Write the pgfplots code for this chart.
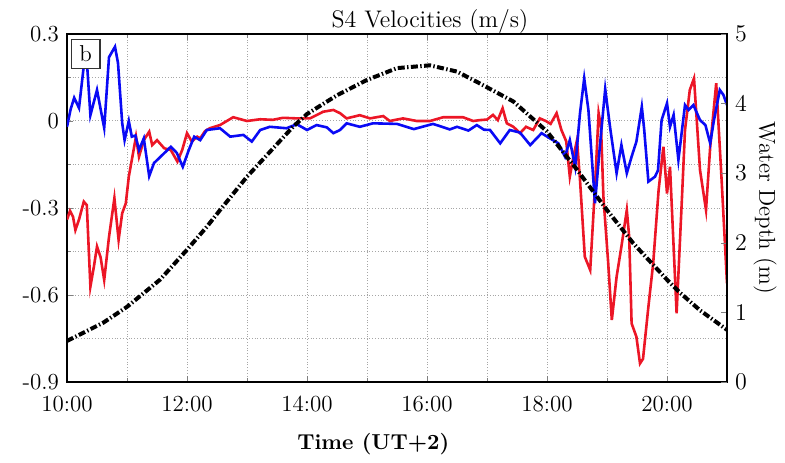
\documentclass[border=0pt]{standalone}
\usepackage{pgfplots}
\pgfplotsset{compat=1.18}
\definecolor{vred}{RGB}{236,22,38}
\definecolor{vblue}{RGB}{10,10,245}
\begin{document}
\fontsize{11.5}{13.5}\selectfont
\begin{tikzpicture}
\useasboundingbox (-33.5pt,-40pt) rectangle (359pt,191pt);
\begin{axis}[
  at={(0pt,0pt)}, anchor=south west,
  scale only axis, width=330pt, height=174pt,
  xmin=10, xmax=21, ymin=-0.9, ymax=0.3,
  xtick={10,12,14,16,18,20},
  xticklabels={10:00,12:00,14:00,16:00,18:00,20:00},
  minor x tick num=1,
  ytick={-0.9,-0.6,-0.3,0,0.3},
  yticklabels={-0.9,-0.6,-0.3,0,0.3},
  minor y tick num=1,
  ytick pos=left,
  grid=both,
  major grid style={densely dotted, gray!70, line width=0.5pt},
  minor grid style={densely dotted, gray!70, line width=0.5pt},
  major tick length=3pt, minor tick length=2pt,
  axis line style={line width=0.9pt},
  x tick label style={yshift=-3pt},
  every axis title shift=0pt,
  title={S4 Velocities (m/s)},
  title style={at={(axis description cs:0.55,1.02)}, anchor=base, font=\fontsize{12}{14}\selectfont},
  xlabel={Time (UT+2)},
  xlabel style={at={(axis description cs:0.464,-0.195)}, anchor=base, font=\bfseries\fontsize{10.8}{12}\selectfont},
]
\addplot[vred, line width=1.3pt] coordinates {
(10.00,-0.34) (10.05,-0.31) (10.10,-0.33) (10.14,-0.376) (10.20,-0.34) (10.28,-0.278) (10.33,-0.29)
(10.39,-0.571) (10.45,-0.50) (10.50,-0.433) (10.56,-0.47) (10.62,-0.548) (10.70,-0.40) (10.79,-0.266)
(10.86,-0.41) (10.92,-0.318) (10.98,-0.284) (11.03,-0.192) (11.09,-0.123) (11.15,-0.054) (11.20,-0.123)
(11.28,-0.066) (11.37,-0.037) (11.42,-0.083) (11.50,-0.066) (11.62,-0.094) (11.73,-0.10) (11.84,-0.14)
(11.92,-0.10) (12.00,-0.042) (12.08,-0.071) (12.17,-0.054) (12.22,-0.06) (12.30,-0.035) (12.38,-0.025)
(12.55,-0.014) (12.77,0.013) (13.00,0.0) (13.22,0.006) (13.43,0.004) (13.60,0.011) (13.83,0.009)
(14.05,0.009) (14.27,0.032) (14.44,0.038) (14.55,0.027) (14.66,0.009) (14.88,0.02) (15.05,0.009)
(15.27,0.017) (15.38,0.0) (15.60,0.009) (15.83,0.0) (16.05,0.0) (16.27,0.013) (16.60,0.013)
(16.77,0.0) (16.88,0.003) (17.00,0.005) (17.10,0.021) (17.18,0.003) (17.26,0.044) (17.33,-0.008)
(17.44,-0.02) (17.55,-0.042) (17.65,-0.02) (17.77,-0.031) (17.88,0.009) (17.98,0.0) (18.06,-0.01)
(18.16,0.027) (18.24,-0.031) (18.32,-0.07) (18.38,-0.192) (18.44,-0.123) (18.50,-0.066) (18.55,-0.203)
(18.63,-0.468) (18.72,-0.514) (18.80,-0.227) (18.86,0.027) (18.90,-0.02) (18.94,-0.261) (19.02,-0.49)
(19.08,-0.686) (19.16,-0.537) (19.24,-0.433) (19.33,-0.307) (19.37,-0.40) (19.41,-0.698) (19.49,-0.744)
(19.55,-0.836) (19.60,-0.82) (19.69,-0.64) (19.77,-0.49) (19.86,-0.238) (19.94,-0.089) (20.00,-0.25)
(20.05,-0.158) (20.11,-0.433) (20.16,-0.663) (20.25,-0.261) (20.30,-0.031) (20.38,0.107) (20.45,0.147)
(20.55,-0.169) (20.65,-0.307) (20.72,-0.089) (20.82,0.13) (20.91,-0.203) (21.00,-0.56)
};
\addplot[vblue, line width=1.3pt] coordinates {
(10.00,-0.02) (10.06,0.04) (10.12,0.08) (10.20,0.045) (10.28,0.19) (10.33,0.21) (10.39,0.02)
(10.50,0.107) (10.62,-0.024) (10.70,0.22) (10.80,0.256) (10.85,0.20) (10.92,-0.007) (10.96,-0.066)
(11.03,0.0) (11.08,-0.054) (11.14,-0.05) (11.20,-0.10) (11.28,-0.06) (11.37,-0.19) (11.45,-0.145)
(11.56,-0.123) (11.73,-0.089) (11.83,-0.11) (11.93,-0.158) (12.03,-0.10) (12.12,-0.054) (12.22,-0.066)
(12.33,-0.031) (12.55,-0.025) (12.72,-0.054) (12.94,-0.048) (13.08,-0.071) (13.22,-0.031) (13.38,-0.02)
(13.66,-0.025) (13.83,-0.011) (14.00,-0.031) (14.16,-0.014) (14.33,-0.022) (14.44,-0.042) (14.55,-0.031)
(14.66,-0.008) (14.88,-0.02) (15.10,-0.008) (15.50,-0.01) (15.78,-0.028) (16.10,-0.01) (16.38,-0.029)
(16.50,-0.02) (16.69,-0.033) (16.83,-0.014) (16.95,-0.03) (17.05,-0.031) (17.22,-0.077) (17.38,-0.031)
(17.55,-0.04) (17.72,-0.083) (17.91,-0.042) (18.05,-0.06) (18.19,-0.077) (18.30,-0.123) (18.38,-0.066)
(18.47,-0.158) (18.55,0.027) (18.62,0.147) (18.69,0.038) (18.80,-0.284) (18.88,-0.089) (18.97,0.11)
(19.05,-0.02) (19.16,-0.18) (19.24,-0.083) (19.33,-0.18) (19.41,-0.123) (19.49,-0.071) (19.58,0.049)
(19.62,-0.03) (19.69,-0.209) (19.80,-0.192) (19.85,-0.17) (19.91,0.003) (20.00,0.061) (20.05,-0.02)
(20.11,0.021) (20.19,-0.134) (20.30,0.055) (20.36,0.038) (20.44,0.055) (20.55,0.003) (20.64,-0.014)
(20.72,-0.077) (20.78,0.0) (20.88,0.107) (20.94,0.09) (21.00,0.055)
};
\end{axis}
\begin{axis}[
  at={(0pt,0pt)}, anchor=south west,
  scale only axis, width=330pt, height=174pt,
  xmin=10, xmax=21, ymin=0, ymax=5,
  axis x line=none, axis y line*=right,
  ytick={0,1,2,3,4,5},
  major tick length=3pt,
  axis line style={line width=0.9pt},
  ylabel={Water Depth (m)},
  ylabel style={at={(axis description cs:1.0576,0.5)}, anchor=center, rotate=180},
]
\addplot[black, line width=2pt, dash pattern=on 3.5pt off 1.2pt on 0.7pt off 1.2pt] coordinates {
(10.00,0.59) (10.30,0.72) (10.60,0.85) (11.00,1.08) (11.55,1.47) (12.00,1.90) (12.33,2.23)
(12.55,2.47) (13.00,2.95) (13.77,3.67) (14.00,3.85) (14.50,4.12) (15.00,4.34) (15.50,4.51)
(16.05,4.55) (16.50,4.46) (16.88,4.29) (17.44,4.03) (18.00,3.60) (18.50,3.05) (19.00,2.47)
(19.44,1.99) (20.00,1.47) (20.22,1.28) (20.55,1.03) (21.00,0.75)
};
\node[draw=black!80, fill=white, line width=0.7pt, anchor=north west, minimum width=14.3pt, minimum height=14.3pt, inner sep=0pt] at (rel axis cs:0.0056,0.9856) {b};
\end{axis}
\end{tikzpicture}
\end{document}
